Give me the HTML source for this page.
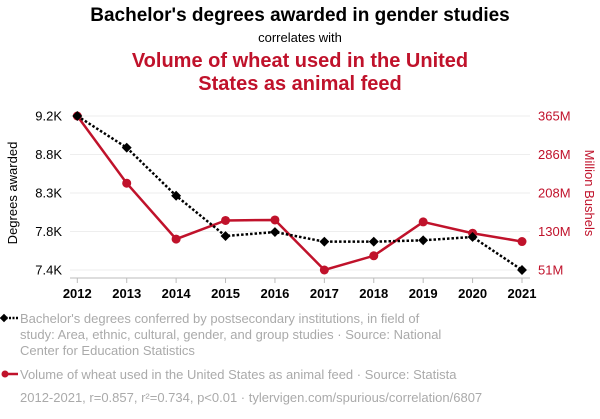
<!DOCTYPE html>
<html><head><meta charset="utf-8"><style>
body{margin:0;background:#fff;width:600px;height:414px;overflow:hidden;font-family:"Liberation Sans",sans-serif}
</style></head><body>
<svg id="c" width="600" height="414" xmlns="http://www.w3.org/2000/svg">
<text x="300" y="21" text-anchor="middle" font-size="19" font-weight="bold" fill="#000">Bachelor's degrees awarded in gender studies</text>
<text x="300" y="42" text-anchor="middle" font-size="13" fill="#000">correlates with</text>
<text x="300" y="67" text-anchor="middle" font-size="20" font-weight="bold" fill="#c0122b">Volume of wheat used in the United</text>
<text x="300" y="90" text-anchor="middle" font-size="20" font-weight="bold" fill="#c0122b">States as animal feed</text>
<text transform="translate(17,193) rotate(-90)" text-anchor="middle" font-size="13" fill="#000">Degrees awarded</text>
<text transform="translate(585,193) rotate(90)" text-anchor="middle" font-size="13" fill="#c0122b">Million Bushels</text>
<g id="grid"></g><g id="axes"></g><g id="series"></g>
<g font-size="13" fill="#aaa">
<g>
<line x1="2" y1="318" x2="18" y2="318" stroke="#000" stroke-width="2.5" stroke-dasharray="2,1.5"/>
<rect x="1" y="315" width="6" height="6" fill="#000" transform="rotate(45 4 318)"/>
<text x="20" y="323">Bachelor's degrees conferred by postsecondary institutions, in field of</text>
<text x="20" y="339">study: Area, ethnic, cultural, gender, and group studies · Source: National</text>
<text x="20" y="355">Center for Education Statistics</text>
</g>
<g>
<line x1="2" y1="374" x2="18" y2="374" stroke="#c0122b" stroke-width="2.5"/>
<circle cx="5" cy="374" r="3.5" fill="#c0122b"/>
<text x="20" y="379">Volume of wheat used in the United States as animal feed · Source: Statista</text>
</g>
<text x="20" y="402">2012-2021, r=0.857, r²=0.734, p&lt;0.01 · tylervigen.com/spurious/correlation/6807</text>
</g>
</svg>
<script>
const years=[2012,2013,2014,2015,2016,2017,2018,2019,2020,2021];
const degrees=[9200,8830,8268,7797,7844,7731,7731,7747,7786,7400];
const wheat=[365,228,114,152,153,51,80,149,126,109];
const leftTicks=[9200,8750,8300,7850,7400];
const leftLabels=["9.2K","8.8K","8.3K","7.8K","7.4K"];
const rightTicks=[365,286.5,208,129.5,51];
const rightLabels=["365M","286M","208M","130M","51M"];
const NS="http://www.w3.org/2000/svg";
const x0=77.3,x1=522,yT=116,yB=270;
const xs=i=>x0+(x1-x0)*i/(years.length-1);
const yl=v=>yT+(9200-v)/(9200-7400)*(yB-yT);
const yr=v=>yT+(365-v)/(365-51)*(yB-yT);
function mk(t,a,p){const e=document.createElementNS(NS,t);for(const k in a)e.setAttribute(k,a[k]);p.appendChild(e);return e;}
const grid=document.getElementById('grid'),axes=document.getElementById('axes'),ser=document.getElementById('series');
leftTicks.forEach((v,i)=>{
 const g=mk('line',{x1:70,x2:530,y1:yl(v),y2:yl(v),stroke:'#eee','stroke-width':1},grid);
 
 
 const t=mk('text',{x:62,y:yl(v)+4.5,'text-anchor':'end','font-size':13,fill:'#000'},axes);t.textContent=leftLabels[i];
 
 
});
rightTicks.forEach((v,i)=>{
 const t=mk('text',{x:538,y:yr(v)+4.5,'font-size':13,fill:'#c0122b'},axes);t.textContent=rightLabels[i];
 
 
});
const ax=mk('line',{x1:70,x2:530,y1:278,y2:278,stroke:'#bbb','stroke-width':1},axes);


years.forEach((y,i)=>{
 mk('line',{x1:xs(i),x2:xs(i),y1:278,y2:283,stroke:'#bbb'},axes);
 const t=mk('text',{x:xs(i),y:298,'text-anchor':'middle','font-size':13,'font-weight':'bold',fill:'#000'},axes);t.textContent=y;
 
 
});
const rp=mk('polyline',{points:wheat.map((v,i)=>xs(i)+','+yr(v)).join(' '),fill:'none',stroke:'#c0122b','stroke-width':2.5},ser);


wheat.forEach((v,i)=>{const c=mk('circle',{cx:xs(i),cy:yr(v),r:4.5,fill:'#c0122b'},ser);
 
 });
const bp=mk('polyline',{points:degrees.map((v,i)=>xs(i)+','+yl(v)).join(' '),fill:'none',stroke:'#000','stroke-width':2.5,'stroke-dasharray':'2.5,2'},ser);


degrees.forEach((v,i)=>{const r=mk('rect',{x:xs(i)-3.5,y:yl(v)-3.5,width:7,height:7,fill:'#000',transform:`rotate(45 ${xs(i)} ${yl(v)})`},ser);
 
 });
</script>
</body></html>
